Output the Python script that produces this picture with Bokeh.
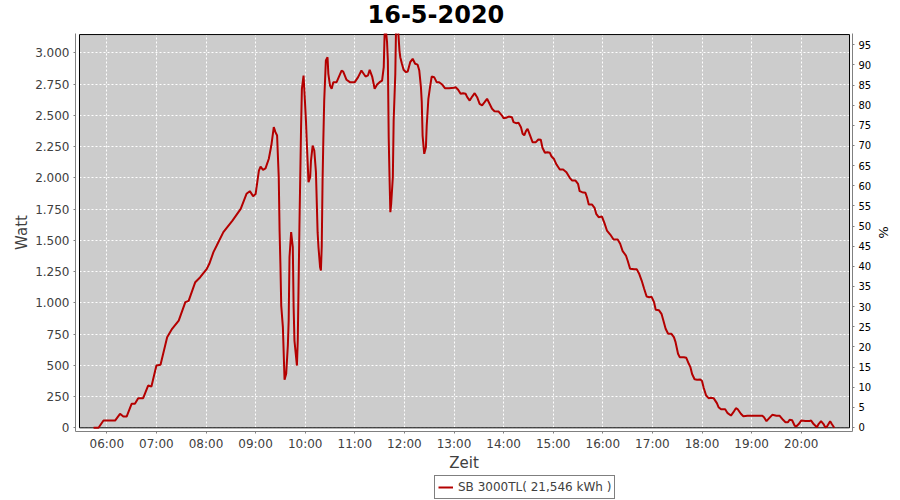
from bokeh.plotting import figure
from bokeh.models import Range1d, LinearAxis, FixedTicker, Legend, LegendItem, Title
from bokeh.layouts import column
from bokeh.embed import file_html
from bokeh.resources import INLINE

# ---------------- data ----------------
title_text = "16-5-2020"
series_name = "SB 3000TL( 21,546 kWh )"

times = [
    "05:44", "05:50", "05:56", "06:10", "06:16", "06:20", "06:24", "06:30", "06:34", "06:38",
    "06:44", "06:50", "06:54", "07:00", "07:05", "07:13", "07:19", "07:27", "07:35", "07:39",
    "07:47", "07:53", "08:01", "08:04", "08:09", "08:13", "08:21", "08:32", "08:42", "08:49",
    "08:53", "08:57", "09:00", "09:04", "09:06", "09:09", "09:12", "09:16", "09:19", "09:22",
    "09:24", "09:26", "09:28", "09:29", "09:30", "09:31", "09:33", "09:35", "09:37", "09:39",
    "09:40", "09:41", "09:43", "09:45", "09:46", "09:47", "09:50", "09:51", "09:53", "09:55",
    "09:56", "09:58", "09:59", "10:01", "10:02", "10:04", "10:06", "10:07", "10:09", "10:11",
    "10:13", "10:15", "10:16", "10:18", "10:19", "10:20", "10:21", "10:22", "10:23", "10:25",
    "10:27", "10:28", "10:30", "10:32", "10:34", "10:38", "10:44", "10:46", "10:50", "10:54",
    "11:00", "11:04", "11:08", "11:13", "11:16", "11:18", "11:21", "11:24", "11:27", "11:30",
    "11:33", "11:35", "11:36", "11:37", "11:39", "11:40", "11:41", "11:42", "11:43", "11:44",
    "11:46", "11:47", "11:49", "11:50", "11:52", "11:54", "11:55", "11:57", "11:59", "12:02",
    "12:04", "12:07", "12:10", "12:13", "12:16", "12:18", "12:20", "12:21", "12:22", "12:24",
    "12:26", "12:27", "12:29", "12:31", "12:33", "12:36", "12:39", "12:42", "12:46", "12:49",
    "12:54", "13:00", "13:02", "13:05", "13:08", "13:11", "13:14", "13:16", "13:19", "13:22",
    "13:25", "13:28", "13:31", "13:34", "13:37", "13:40", "13:43", "13:46", "13:49", "13:54",
    "13:58", "14:00", "14:03", "14:06", "14:10", "14:12", "14:15", "14:18", "14:21", "14:23",
    "14:25", "14:27", "14:29", "14:32", "14:35", "14:39", "14:42", "14:45", "14:47", "14:50",
    "14:53", "14:56", "14:58", "15:01", "15:04", "15:08", "15:12", "15:16", "15:20", "15:23",
    "15:27", "15:30", "15:32", "15:35", "15:39", "15:41", "15:43", "15:47", "15:50", "15:52",
    "15:55", "15:59", "16:02", "16:05", "16:09", "16:13", "16:18", "16:21", "16:24", "16:28",
    "16:30", "16:33", "16:38", "16:41", "16:44", "16:47", "16:50", "16:53", "16:56", "16:59",
    "17:02", "17:04", "17:08", "17:11", "17:13", "17:16", "17:19", "17:23", "17:26", "17:28",
    "17:31", "17:33", "17:38", "17:41", "17:44", "17:46", "17:48", "17:51", "17:54", "17:58",
    "18:00", "18:02", "18:05", "18:08", "18:11", "18:14", "18:18", "18:20", "18:23", "18:28",
    "18:31", "18:35", "18:38", "18:41", "18:43", "18:47", "18:50", "18:55", "19:03", "19:09",
    "19:13", "19:15", "19:18", "19:21", "19:25", "19:30", "19:34", "19:38", "19:41", "19:44",
    "19:46", "19:49", "19:52", "19:54", "19:57", "20:00", "20:05", "20:10", "20:12", "20:15",
    "20:19", "20:21", "20:24", "20:27", "20:29", "20:31", "20:35", "20:37", "20:40",
]

watts = [
    0, 0, 58, 58, 112, 90, 90, 192, 192, 237,
    237, 338, 330, 498, 505, 725, 792, 858, 1005, 1015,
    1165, 1205, 1272, 1312, 1405, 1458, 1565, 1658, 1752, 1872,
    1893, 1853, 1870, 2058, 2090, 2064, 2075, 2152, 2258, 2405,
    2365, 2338, 2005, 1578, 1312, 978, 805, 384, 432, 658,
    858, 1365, 1565, 1445, 965, 698, 498, 698, 1605, 2405,
    2712, 2818, 2698, 2445, 2272, 1965, 2005, 2138, 2258, 2218,
    2045, 1565, 1450, 1285, 1258, 1450, 1978, 2325, 2618, 2938,
    2965, 2832, 2738, 2712, 2765, 2765, 2858, 2850, 2784, 2765,
    2765, 2805, 2858, 2810, 2820, 2864, 2810, 2712, 2746, 2765,
    2778, 2885, 3138, 3220, 3085, 2938, 2325, 2005, 1725, 1792,
    2005, 2458, 2832, 3250, 3230, 3018, 2965, 2912, 2864, 2845,
    2850, 2925, 2952, 2912, 2905, 2858, 2725, 2605, 2338, 2192,
    2245, 2418, 2632, 2725, 2810, 2805, 2765, 2765, 2744, 2717,
    2717, 2720, 2725, 2705, 2672, 2677, 2672, 2645, 2618, 2650,
    2677, 2645, 2592, 2580, 2605, 2632, 2592, 2552, 2533, 2530,
    2498, 2477, 2480, 2490, 2485, 2445, 2437, 2440, 2405, 2352,
    2340, 2373, 2392, 2340, 2285, 2285, 2306, 2304, 2240, 2200,
    2205, 2200, 2170, 2150, 2106, 2066, 2066, 2045, 2000, 1978,
    1978, 1952, 1893, 1885, 1880, 1840, 1786, 1786, 1760, 1712,
    1685, 1690, 1637, 1578, 1546, 1506, 1506, 1472, 1413, 1378,
    1338, 1272, 1268, 1268, 1232, 1178, 1112, 1050, 1045, 1048,
    1005, 944, 940, 912, 864, 792, 752, 752, 725, 685,
    592, 565, 565, 560, 512, 485, 430, 388, 385, 386,
    375, 320, 258, 237, 240, 237, 197, 165, 149, 149,
    117, 98, 125, 157, 150, 112, 93, 96, 96, 96,
    96, 85, 53, 75, 104, 96, 96, 64, 45, 45,
    64, 60, 18, 10, 30, 58, 55, 55, 58, 30,
    5, 30, 53, 30, 5, 8, 53, 30, 0,
]

hour_ticks = list(range(6, 21))
watt_ticks = list(range(0, 3001, 250))
pct_ticks = list(range(0, 96, 5))

# ---------------- helpers ----------------
def to_hours(t):
    h, m = t.split(":")
    return int(h) + int(m) / 60.0

xs = [to_hours(t) for t in times]

FONT = "DejaVu Sans"
LINE_COLOR = "#B40000"
AXIS_GRAY = "#808080"
TEXT_GRAY = "#404040"

# axis ranges (frame includes 4px axis offset around the data area)
X_START, X_END = 5.369, 21.034
Y_START, Y_END = -29.6, 3154.4
P_START, P_END = -0.993, 97.8
AREA_L, AREA_R, AREA_T = 5.4496, 20.974, 3146.0

p = figure(
    width=900, height=474,
    output_backend="svg", toolbar_location=None,
    x_range=Range1d(X_START, X_END), y_range=Range1d(Y_START, Y_END),
    min_border_left=75, min_border_right=48, min_border_top=33, min_border_bottom=43,
)
p.background_fill_color = "white"
p.border_fill_color = "white"
p.outline_line_color = None

# title: empty built-in title, a small spacer and the real title above it
p.title.text = ""
p.add_layout(Title(text=" ", text_font_size="7px", standoff=0), "above")
p.add_layout(Title(
    text=title_text, text_font=FONT, text_font_size="24px", text_font_style="bold",
    text_color="black", align="left", offset=292, standoff=0, vertical_align="top",
), "above")

# data area background
p.quad(left=[AREA_L], right=[AREA_R], bottom=[0], top=[AREA_T],
       fill_color="#CCCCCC", line_color=None, level="image")

# grid
xt = FixedTicker(ticks=hour_ticks)
yt = FixedTicker(ticks=watt_ticks)
p.xaxis[0].ticker = xt
p.xgrid[0].ticker = xt
left_ax = p.yaxis[0]
left_ax.ticker = yt
p.ygrid[0].ticker = yt
for g in (p.xgrid[0], p.ygrid[0]):
    g.grid_line_color = "white"
    g.grid_line_dash = "2 2"
    g.grid_line_width = 1

# data area border
p.quad(left=[AREA_L], right=[AREA_R], bottom=[0], top=[AREA_T],
       fill_color=None, line_color="black", line_width=1)

line_r = p.line(xs, watts, line_color=LINE_COLOR, line_width=2)

# x axis
xa = p.xaxis[0]
xa.major_label_overrides = {h: f"{h:02d}:00" for h in hour_ticks}
xa.axis_label = "Zeit"

# left axis
left_ax.major_label_overrides = {v: f"{v:,}".replace(",", ".") for v in watt_ticks}
left_ax.axis_label = "Watt"

# right axis
p.extra_y_ranges = {"pct": Range1d(P_START, P_END)}
right_ax = LinearAxis(y_range_name="pct", ticker=FixedTicker(ticks=pct_ticks), axis_label="%")
p.add_layout(right_ax, "right")

for ax in (xa, left_ax, right_ax):
    ax.axis_line_color = AXIS_GRAY
    ax.major_tick_line_color = AXIS_GRAY
    ax.major_tick_out = 2
    ax.major_tick_in = 0
    ax.minor_tick_out = 0
    ax.minor_tick_in = 0
    ax.major_label_text_font = FONT
    ax.axis_label_text_font = FONT
    ax.axis_label_text_font_style = "normal"

xa.major_label_text_font_size = "12px"
xa.major_label_text_color = TEXT_GRAY
xa.major_label_standoff = 3
xa.axis_label_text_font_size = "15px"
xa.axis_label_text_color = TEXT_GRAY
xa.axis_label_standoff = 0

left_ax.major_label_text_font_size = "12px"
left_ax.major_label_text_color = TEXT_GRAY
left_ax.major_label_standoff = 4
left_ax.axis_label_text_font_size = "15px"
left_ax.axis_label_text_color = TEXT_GRAY
left_ax.axis_label_standoff = 1

right_ax.major_label_text_font_size = "10px"
right_ax.major_label_text_color = "black"
right_ax.major_label_standoff = 4
right_ax.axis_label_text_font_size = "13px"
right_ax.axis_label_text_color = "black"
right_ax.axis_label_standoff = 2

# ---------------- legend strip below the chart ----------------
leg_fig = figure(
    width=900, height=26,
    output_backend="svg", toolbar_location=None,
    x_range=Range1d(0, 900), y_range=Range1d(0, 26),
    x_axis_type=None, y_axis_type=None, min_border=0,
)
leg_fig.outline_line_color = None
leg_fig.background_fill_color = "white"
leg_fig.border_fill_color = "white"
# line renderer for the legend swatch (its points lie outside the visible range)
swatch = leg_fig.line(x=[-20, -10], y=[-20, -10], line_color=LINE_COLOR, line_width=2)

legend = Legend(
    items=[LegendItem(label=series_name, renderers=[swatch])],
    location=(359, 1), orientation="horizontal",
    border_line_color="black", border_line_width=1, background_fill_color="white",
    background_fill_alpha=1.0,
    label_text_font=FONT, label_text_font_size="12px", label_text_color=TEXT_GRAY,
    glyph_width=15, glyph_height=16, label_height=16, label_standoff=5,
    padding=3, margin=0, spacing=0,
)
leg_fig.add_layout(legend)

layout = column(p, leg_fig, spacing=0)

open("out.html", "w").write(file_html(layout, INLINE))
